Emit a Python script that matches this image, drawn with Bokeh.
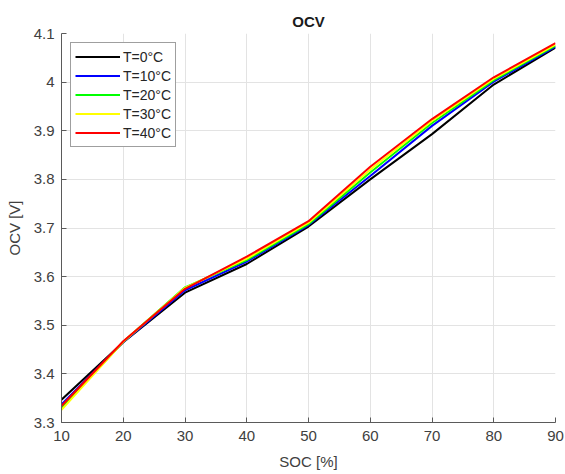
from bokeh.plotting import figure
from bokeh.models import Range1d, FixedTicker, Legend, LegendItem, CustomJSTickFormatter
from bokeh.embed import file_html
from bokeh.resources import INLINE

soc = [10, 20, 30, 40, 50, 60, 70, 80, 90]
ocv_t0 = [3.347, 3.465, 3.567, 3.626, 3.703, 3.800, 3.893, 3.995, 4.071]
ocv_t10 = [3.337, 3.465, 3.572, 3.631, 3.706, 3.807, 3.910, 4.001, 4.073]
ocv_t20 = [3.330, 3.466, 3.578, 3.634, 3.708, 3.814, 3.916, 4.004, 4.075]
ocv_t30 = [3.326, 3.466, 3.577, 3.637, 3.711, 3.820, 3.920, 4.007, 4.077]
ocv_t40 = [3.334, 3.467, 3.575, 3.641, 3.714, 3.826, 3.924, 4.010, 4.080]
labels = ["T=0°C", "T=10°C", "T=20°C", "T=30°C", "T=40°C"]
colors = ["#000000", "#0000ff", "#00ff00", "#ffff00", "#ff0000"]
x_ticks = [10, 20, 30, 40, 50, 60, 70, 80, 90]
y_ticks = [3.3, 3.4, 3.5, 3.6, 3.7, 3.8, 3.9, 4.0, 4.1]

FONT = "Liberation Sans"
AX = "#5a5a5a"
TXT = "#404040"

p = figure(width=565, height=474, output_backend="svg", toolbar_location=None,
           x_range=Range1d(10, 90), y_range=Range1d(3.3, 4.1),
           min_border_left=61, min_border_right=10, min_border_top=33, min_border_bottom=52)
p.title.text = "OCV"
p.title.align = "center"
p.title.text_font = FONT
p.title.text_font_size = "15px"
p.title.text_font_style = "bold"
p.title.text_color = "#1a1a1a"
p.title.standoff = 8
p.outline_line_color = None
p.background_fill_color = "white"
p.border_fill_color = "white"

series = [ocv_t0, ocv_t10, ocv_t20, ocv_t30, ocv_t40]
items = []
for vals, lab, col in zip(series, labels, colors):
    r = p.line(soc, vals, line_color=col, line_width=2)
    items.append(LegendItem(label=lab, renderers=[r]))

p.xaxis.ticker = FixedTicker(ticks=x_ticks)
p.yaxis.ticker = FixedTicker(ticks=y_ticks)
p.yaxis.formatter = CustomJSTickFormatter(code="""
var s = tick.toFixed(1);
if (s.endsWith('.0')) { s = s.slice(0, -2); }
return s;""")

for ax in (p.xaxis, p.yaxis):
    ax.axis_line_color = AX
    ax.major_tick_line_color = AX
    ax.major_tick_in = 5
    ax.major_tick_out = 0
    ax.minor_tick_line_color = None
    ax.major_label_text_font = FONT
    ax.major_label_text_font_size = "15px"
    ax.major_label_text_color = TXT
    ax.axis_label_text_font = FONT
    ax.axis_label_text_font_size = "15px"
    ax.axis_label_text_font_style = "normal"
    ax.axis_label_text_color = TXT
p.xaxis.axis_label = "SOC [%]"
p.yaxis.axis_label = "OCV [V]"
p.xaxis.major_label_standoff = 8
p.yaxis.major_label_standoff = 7
p.xaxis.axis_label_standoff = 9
p.yaxis.axis_label_standoff = 8

p.grid.grid_line_color = "#e3e3e3"
p.grid.grid_line_width = 1

legend = Legend(items=items, location="top_left", margin=9,
                padding=4, spacing=0, glyph_width=45, glyph_height=19,
                label_height=19, label_standoff=3,
                label_text_font=FONT, label_text_font_size="14px",
                label_text_color="#262626",
                border_line_color="#404040", border_line_width=1,
                background_fill_color="white", background_fill_alpha=1.0)
p.add_layout(legend)

open("out.html", "w").write(file_html(p, INLINE))
